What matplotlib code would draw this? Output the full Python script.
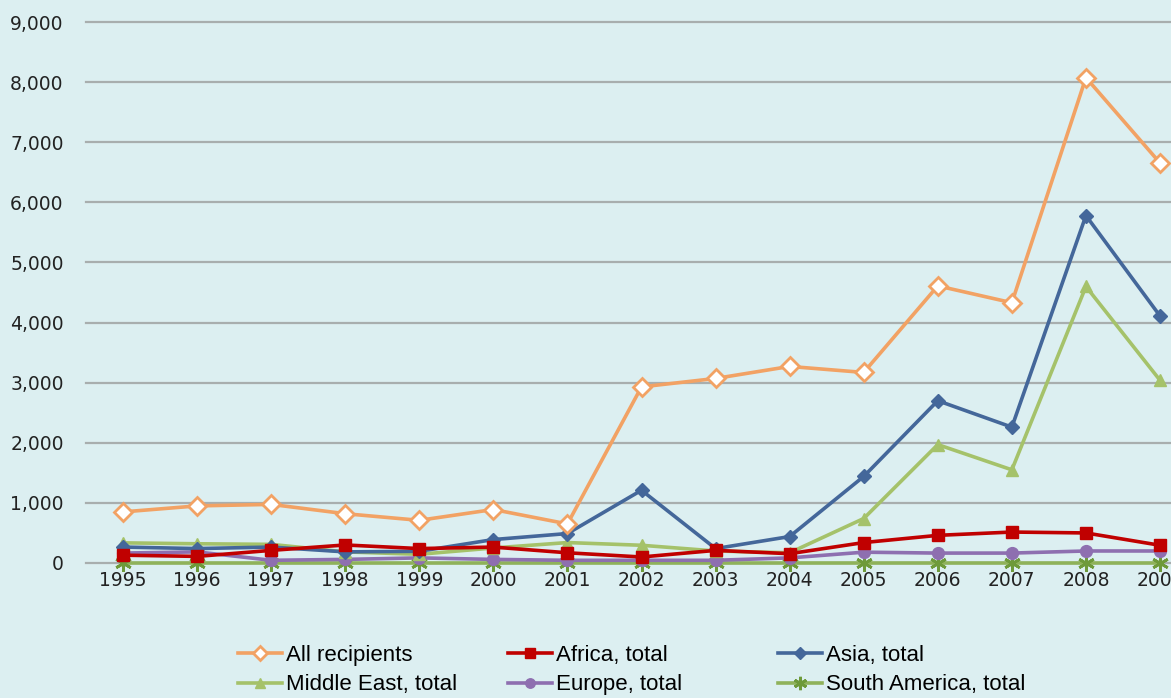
import matplotlib
matplotlib.use("Agg")
import matplotlib.pyplot as plt

years = list(range(1995, 2010))
all_recipients = [850, 950, 975, 820, 710, 890, 650, 2930, 3070, 3270, 3170, 4610, 4330, 8075, 6655]
africa = [130, 110, 210, 300, 240, 265, 170, 100, 210, 155, 340, 460, 515, 500, 295]
asia = [265, 240, 265, 185, 195, 390, 490, 1210, 240, 440, 1440, 2700, 2260, 5780, 4110]
middle_east = [335, 320, 310, 185, 145, 250, 340, 295, 200, 170, 740, 1970, 1550, 4600, 3040]
europe = [165, 185, 45, 60, 85, 60, 45, 45, 45, 85, 180, 165, 165, 200, 200]
south_america = [5, 5, 5, 5, 5, 5, 5, 5, 5, 5, 5, 5, 5, 5, 5]
yticks = [0, 1000, 2000, 3000, 4000, 5000, 6000, 7000, 8000, 9000]
labels = ["All recipients", "Africa, total", "Asia, total",
          "Middle East, total", "Europe, total", "South America, total"]

W, H = 1171, 698
bg = "#DCEFF1"
fig = plt.figure(figsize=(W / 100, H / 100), dpi=100, facecolor=bg)
step = (1160 - 123) / 14.0
left_px = 123 - step / 2
right_px = 1160 + step / 2
top_px, bot_px = 22, 563
ax = fig.add_axes([left_px / W, 1 - bot_px / H, (right_px - left_px) / W, (bot_px - top_px) / H])
ax.set_facecolor(bg)
ax.set_xlim(1994.5, 2009.5)
ax.set_ylim(0, 9000)
ax.set_yticks(yticks)
ax.set_yticklabels([f"{v:,}" for v in yticks])
ax.set_xticks(years)
ax.set_xticklabels([str(y) for y in years])
for s in ax.spines.values():
    s.set_visible(False)
ax.tick_params(length=0, labelsize=13.5, colors="#222222")
ax.tick_params(axis="y", pad=16)
ax.tick_params(axis="x", pad=6)
ax.grid(axis="y", color="#A8AEAE", linewidth=1.6)
for gl in ax.get_ygridlines():
    gl.set_clip_on(False)
ax.set_axisbelow(True)

lw = 2.6
specs = [
    (all_recipients, dict(color="#F2A264", marker="D", markersize=9, markerfacecolor="white",
                          markeredgecolor="#F2A264", markeredgewidth=2)),
    (africa, dict(color="#C00000", marker="s", markersize=8.5, markeredgecolor="#C00000")),
    (asia, dict(color="#44679A", marker="D", markersize=7.5, markeredgecolor="#44679A")),
    (middle_east, dict(color="#A5C26A", marker="^", markersize=9, markeredgecolor="#A5C26A")),
    (europe, dict(color="#8E6FB0", marker="o", markersize=8.5, markeredgecolor="#8E6FB0")),
    (south_america, dict(color="#8FB25A", marker=(6, 2, 0), markersize=12, markeredgewidth=2,
                         markeredgecolor="#6E9A3A")),
]
order = [5, 4, 1, 3, 2, 0]
lines = {}
for i in order:
    vals, kw = specs[i]
    ln, = ax.plot(years, vals, linewidth=lw, label=labels[i], clip_on=False,
                  zorder=3 + (5 - i) * 0.1, **kw)
    lines[i] = ln

font_leg = ["Liberation Sans Narrow", "Liberation Sans", "DejaVu Sans"]
cols = [(0, 3), (1, 4), (2, 5)]
xs = [238, 508, 778]
for (a, b), xp in zip(cols, xs):
    fig.legend([lines[a], lines[b]], [labels[a], labels[b]], loc="upper left",
               bbox_to_anchor=(xp / W, 1 - 645 / H), frameon=False,
               prop={"family": font_leg, "size": 16}, handlelength=2.0,
               handletextpad=0.15, labelspacing=0.38, borderaxespad=0, borderpad=0,
               markerscale=0.8)

fig.savefig("out.png", dpi=100, facecolor=bg)
